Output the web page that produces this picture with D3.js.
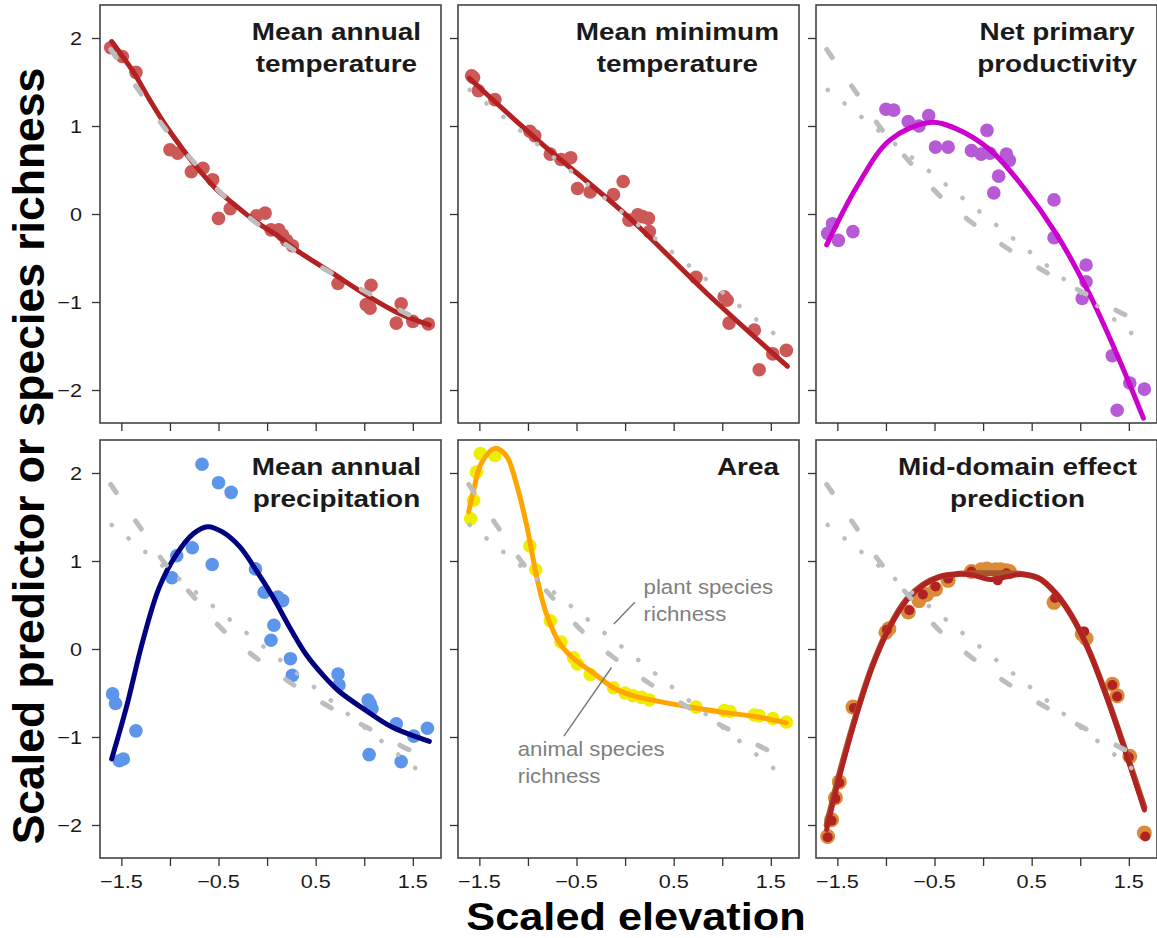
<!doctype html>
<html>
<head>
<script src="https://d3js.org/d3.v7.min.js"></script>
<style>
  body { margin: 0; background: #fff; }
  svg text { font-family: "Liberation Sans", Arial, sans-serif; fill: #1a1a1a; }
</style>
</head>
<body>
<div id="chart"></div>
<script>
// ---- data (scaled units) ----
var xTicks = [-1.5, -1, -0.5, 0, 0.5, 1, 1.5];
var xTickLabels = ["\u22121.5", "", "\u22120.5", "", "0.5", "", "1.5"];
var yTicks = [-2, -1, 0, 1, 2];
var yTickLabels = ["\u22122", "\u22121", "0", "1", "2"];

var panelTitles = [
  ["Mean annual", "temperature"],
  ["Mean minimum", "temperature"],
  ["Net primary", "productivity"],
  ["Mean annual", "precipitation"],
  ["Area"],
  ["Mid-domain effect", "prediction"]
];

// species richness fits (grey)
var plantX = [-1.61, -1.30, -1.05, -0.77, -0.44, -0.09, 0.29, 0.66, 1.06, 1.45, 1.55];
var plantY = [1.87, 1.37, 0.97, 0.61, 0.20, -0.12, -0.42, -0.67, -0.91, -1.14, -1.19];
var animalX = [-1.60, 1.60];
var animalY = [1.41, -1.42];

// mean annual temperature
var matX = [-1.61, -1.49, -1.35, -1.00, -0.92, -0.78, -0.66, -0.56, -0.50, -0.38, -0.11, -0.02, 0.04, 0.12, 0.16, 0.20, 0.26, 0.73, 1.02, 1.06, 1.07, 1.33, 1.38, 1.50, 1.66];
var matY = [1.89, 1.79, 1.61, 0.73, 0.69, 0.48, 0.52, 0.39, -0.05, 0.06, -0.02, 0.01, -0.18, -0.18, -0.24, -0.30, -0.36, -0.79, -1.03, -1.07, -0.81, -1.24, -1.02, -1.22, -1.25];
var matFitX = [-1.60, -1.38, -1.21, -1.04, -0.87, -0.70, -0.52, -0.35, -0.10, 0.10, 0.30, 0.67, 1.02, 1.36, 1.67];
var matFitY = [1.96, 1.62, 1.30, 1.00, 0.74, 0.50, 0.28, 0.12, -0.10, -0.24, -0.41, -0.67, -0.92, -1.13, -1.26];

// mean minimum temperature
var mmtX = [-1.58, -1.56, -1.51, -1.34, -0.98, -0.93, -0.77, -0.66, -0.56, -0.49, -0.36, -0.12, -0.02, 0.04, 0.13, 0.18, 0.24, 0.25, 0.73, 1.02, 1.05, 1.07, 1.33, 1.38, 1.52, 1.66];
var mmtY = [1.57, 1.55, 1.40, 1.30, 0.94, 0.89, 0.68, 0.62, 0.64, 0.29, 0.25, 0.22, 0.37, -0.07, -0.01, -0.03, -0.05, -0.20, -0.72, -0.94, -0.98, -1.24, -1.32, -1.77, -1.59, -1.55];
var mmtFitX = [-1.60, -0.88, 0.00, 0.84, 1.67];
var mmtFitY = [1.54, 0.82, 0.00, -0.90, -1.73];

// net primary productivity
var nppX = [-1.60, -1.55, -1.49, -1.34, -1.00, -0.92, -0.77, -0.66, -0.56, -0.49, -0.36, -0.12, -0.02, 0.04, 0.07, 0.16, 0.11, 0.24, 0.27, 0.73, 0.73, 1.06, 1.06, 1.02, 1.33, 1.38, 1.51, 1.66];
var nppY = [-0.22, -0.11, -0.30, -0.20, 1.19, 1.18, 1.05, 1.00, 1.12, 0.76, 0.76, 0.72, 0.68, 0.95, 0.69, 0.43, 0.24, 0.68, 0.61, 0.16, -0.27, -0.58, -0.77, -0.96, -1.61, -2.23, -1.92, -1.99];
var nppFitX = [-1.61, -1.30, -0.96, -0.55, -0.28, 0.07, 0.41, 0.75, 1.09, 1.43, 1.65];
var nppFitY = [-0.35, 0.31, 0.84, 1.04, 0.97, 0.73, 0.31, -0.22, -0.90, -1.73, -2.32];

// mean annual precipitation
var mapX = [-1.59, -1.56, -1.52, -1.48, -1.35, -0.98, -0.93, -0.77, -0.67, -0.565, -0.50, -0.37, -0.12, -0.03, 0.11, 0.16, 0.07, 0.04, 0.24, 0.26, 0.73, 0.74, 1.04, 1.06, 1.08, 1.05, 1.33, 1.38, 1.51, 1.65];
var mapY = [-0.51, -0.62, -1.27, -1.25, -0.93, 0.81, 1.06, 1.15, 2.10, 0.96, 1.89, 1.78, 0.91, 0.645, 0.59, 0.55, 0.27, 0.10, -0.11, -0.30, -0.285, -0.41, -0.58, -0.62, -0.68, -1.20, -0.85, -1.28, -0.99, -0.90];
var mapFitX = [-1.60, -1.45, -1.28, -1.11, -0.93, -0.76, -0.61, -0.46, -0.28, -0.11, 0.06, 0.23, 0.40, 0.57, 0.74, 1.02, 1.29, 1.67];
var mapFitY = [-1.25, -0.67, 0.09, 0.70, 1.08, 1.31, 1.39, 1.33, 1.16, 0.89, 0.59, 0.25, -0.06, -0.29, -0.48, -0.70, -0.89, -1.05];

// area
var areaX = [-1.59, -1.56, -1.53, -1.49, -1.34, -0.98, -0.92, -0.77, -0.66, -0.53, -0.49, -0.36, -0.12, 0.00, 0.08, 0.17, 0.25, 0.73, 1.02, 1.08, 1.33, 1.38, 1.52, 1.66];
var areaY = [1.48, 1.69, 2.01, 2.22, 2.20, 1.17, 0.90, 0.32, 0.08, -0.10, -0.17, -0.29, -0.44, -0.50, -0.53, -0.55, -0.58, -0.66, -0.70, -0.71, -0.75, -0.76, -0.79, -0.83];
var areaFitX = [-1.61, -1.56, -1.48, -1.34, -1.22, -1.12, -1.01, -0.91, -0.81, -0.67, -0.53, -0.33, -0.12, 0.08, 0.32, 0.66, 1.01, 1.35, 1.66];
var areaFitY = [1.56, 1.80, 2.11, 2.28, 2.19, 1.88, 1.39, 0.82, 0.40, 0.06, -0.11, -0.27, -0.44, -0.53, -0.59, -0.66, -0.72, -0.77, -0.84];

// mid-domain effect prediction (orange and red series)
var mdeX = [-1.60, -1.56, -1.52, -1.48, -1.34, -1.00, -0.97, -0.77, -0.66, -0.58, -0.49, -0.36, -0.12, -0.02, 0.04, 0.13, 0.18, 0.24, 0.27, 0.73, 1.02, 1.06, 1.33, 1.38, 1.51, 1.66];
var mdeY = [-2.13, -1.94, -1.69, -1.51, -0.66, 0.19, 0.23, 0.42, 0.55, 0.62, 0.68, 0.78, 0.88, 0.90, 0.91, 0.90, 0.90, 0.89, 0.88, 0.53, 0.17, 0.12, -0.40, -0.53, -1.22, -2.09];
var mdeRedX = [-1.60, -1.56, -1.52, -1.48, -1.33, -0.99, -0.76, -0.62, -0.49, -0.36, -0.12, 0.15, 0.24, 0.74, 1.04, 1.33, 1.38, 1.50, 1.67];
var mdeRedY = [-2.14, -1.95, -1.70, -1.52, -0.67, 0.22, 0.44, 0.62, 0.71, 0.80, 0.88, 0.78, 0.86, 0.58, 0.20, -0.41, -0.54, -1.23, -2.13];
var mdeFitX = [-1.61, -1.48, -1.30, -1.13, -0.96, -0.79, -0.62, -0.45, -0.28, -0.11, 0.07, 0.24, 0.41, 0.58, 0.75, 0.92, 1.09, 1.26, 1.43, 1.66];
var mdeFitY = [-2.00, -1.42, -0.72, -0.16, 0.26, 0.56, 0.73, 0.82, 0.85, 0.86, 0.86, 0.86, 0.85, 0.80, 0.63, 0.36, -0.02, -0.50, -1.04, -1.80];
var mdeRedFitY = [-2.05, -1.46, -0.74, -0.17, 0.25, 0.55, 0.72, 0.82, 0.85, 0.84, 0.79, 0.82, 0.85, 0.80, 0.63, 0.36, -0.02, -0.51, -1.05, -1.83];

function zip(a, b) { return a.map(function(v, i) { return [v, b[i]]; }); }

var panels = [
  { pts: [{ d: zip(matX, matY), fill: "#cd5858", r: 6.8 }], fits: [{ d: zip(matFitX, matFitY), color: "#b22222" }], plant: true, animal: false },
  { pts: [{ d: zip(mmtX, mmtY), fill: "#cd5858", r: 6.8 }], fits: [{ d: zip(mmtFitX, mmtFitY), color: "#b22222" }], plant: false, animal: true },
  { pts: [{ d: zip(nppX, nppY), fill: "#b65ad6", r: 6.8 }], fits: [{ d: zip(nppFitX, nppFitY), color: "#cc00cc" }], plant: true, animal: true },
  { pts: [{ d: zip(mapX, mapY), fill: "#5c95ea", r: 6.8 }], fits: [{ d: zip(mapFitX, mapFitY), color: "#000080" }], plant: true, animal: true },
  { pts: [{ d: zip(areaX, areaY), fill: "#eeee00", r: 6.8 }], fits: [{ d: zip(areaFitX, areaFitY), color: "#ffa500" }], plant: true, animal: true },
  { pts: [{ d: zip(mdeX, mdeY), fill: "#d98b3a", r: 7.5 }, { d: zip(mdeRedX, mdeRedY), fill: "#b22222", r: 5 }],
    fits: [{ d: zip(mdeFitX, mdeFitY), color: "#a9542a" }, { d: zip(mdeFitX, mdeRedFitY), color: "#b22222" }], plant: true, animal: true }
];

// ---- layout ----
var W = 1157, H = 938;
var colLeft = [100, 458, 816], rowTop = [5, 440];
var pw = 341, ph = 418;
var sx = 1.14; // horizontal text stretch seen in the picture

var svg = d3.select("#chart").append("svg").attr("width", W).attr("height", H);

var x = d3.scaleLinear().domain([-1.72, 1.79]).range([0, pw]);
var y = d3.scaleLinear().domain([-2.375, 2.375]).range([ph, 0]);

var line = d3.line().x(function(d) { return x(d[0]); }).y(function(d) { return y(d[1]); });
var smooth = d3.line().x(function(d) { return x(d[0]); }).y(function(d) { return y(d[1]); }).curve(d3.curveCatmullRom.alpha(0.5));

panels.forEach(function(p, i) {
  var col = i % 3, row = Math.floor(i / 3);
  var g = svg.append("g").attr("transform", "translate(" + colLeft[col] + "," + rowTop[row] + ")");

  g.append("clipPath").attr("id", "clip" + i)
    .append("rect").attr("width", pw).attr("height", ph);
  var plot = g.append("g").attr("clip-path", "url(#clip" + i + ")");

  // points
  p.pts.forEach(function(s) {
    plot.append("g").selectAll("circle")
      .data(s.d).enter().append("circle")
      .attr("cx", function(d) { return x(d[0]); })
      .attr("cy", function(d) { return y(d[1]); })
      .attr("r", s.r)
      .attr("fill", s.fill);
  });

  // fitted curves
  p.fits.forEach(function(f, k) {
    plot.append("path").datum(f.d)
      .attr("d", smooth)
      .attr("fill", "none")
      .attr("stroke", f.color)
      .attr("stroke-width", k === 0 && p.fits.length > 1 ? 6 : 5)
      .attr("stroke-linecap", "round");
  });

  // grey richness lines on top
  if (p.plant) {
    plot.append("path").datum(zip(plantX, plantY))
      .attr("d", smooth)
      .attr("fill", "none")
      .attr("stroke", "#bdbdbd")
      .attr("stroke-width", 5)
      .attr("stroke-linecap", "round")
      .attr("stroke-dasharray", "10 34");
  }
  if (p.animal) {
    plot.append("path").datum(zip(animalX, animalY))
      .attr("d", line)
      .attr("fill", "none")
      .attr("stroke", "#bdbdbd")
      .attr("stroke-width", 4.5)
      .attr("stroke-linecap", "round")
      .attr("stroke-dasharray", "0.1 21.5");
  }

  // frame
  g.append("rect").attr("width", pw).attr("height", ph)
    .attr("fill", "none").attr("stroke", "#444").attr("stroke-width", 1.6);

  // y axis
  var ya = g.append("g").call(d3.axisLeft(y).tickValues(yTicks).tickSize(8).tickFormat(""));
  ya.select(".domain").remove();
  ya.selectAll("line").attr("stroke", "#333").attr("stroke-width", 1.3);
  if (col === 0) {
    yTicks.forEach(function(t, k) {
      g.append("text").text(yTickLabels[k])
        .attr("font-size", 19).attr("text-anchor", "end")
        .attr("transform", "translate(-18," + (y(t) + 6.8) + ") scale(" + sx + ",1)");
    });
  }

  // x axis
  var xa = g.append("g").attr("transform", "translate(0," + ph + ")")
    .call(d3.axisBottom(x).tickValues(xTicks).tickSize(8).tickFormat(""));
  xa.select(".domain").remove();
  xa.selectAll("line").attr("stroke", "#333").attr("stroke-width", 1.3);
  if (row === 1) {
    xTicks.forEach(function(t, k) {
      if (!xTickLabels[k]) return;
      g.append("text").text(xTickLabels[k])
        .attr("font-size", 19).attr("text-anchor", "middle")
        .attr("transform", "translate(" + x(t) + "," + (ph + 30) + ") scale(" + sx + ",1)");
    });
  }

  // title block: right-aligned block, lines centred inside it
  var texts = panelTitles[i].map(function(t) {
    return g.append("text").text(t)
      .attr("font-size", 24.5).attr("font-weight", "bold")
      .attr("text-anchor", "middle").attr("fill", "#111");
  });
  var maxW = d3.max(texts, function(t) { return t.node().getComputedTextLength(); }) * sx;
  var cx = pw - 20 - maxW / 2;
  texts.forEach(function(t, k) {
    t.attr("transform", "translate(" + cx + "," + (35 + k * 32) + ") scale(" + sx + ",1)");
  });

  // annotations on the Area panel
  if (i === 4) {
    var notes = [
      { text: ["plant species", "richness"], at: [0.19, 0.63], from: [-0.116, 0.285], to: [0.10, 0.53] },
      { text: ["animal species", "richness"], at: [-1.105, -1.22], from: [-0.63, -0.99], to: [-0.14, -0.21] }
    ];
    notes.forEach(function(n) {
      g.append("line")
        .attr("x1", x(n.from[0])).attr("y1", y(n.from[1]))
        .attr("x2", x(n.to[0])).attr("y2", y(n.to[1]))
        .attr("stroke", "#777").attr("stroke-width", 1.4);
      n.text.forEach(function(t, k) {
        g.append("text").text(t)
          .attr("font-size", 19.5).style("fill", "#808080")
          .attr("transform", "translate(" + x(n.at[0]) + "," + (y(n.at[1]) + k * 27) + ") scale(" + sx + ",1)");
      });
    });
  }
});

// axis titles
svg.append("text").text("Scaled elevation")
  .attr("font-size", 38).attr("font-weight", "bold").attr("text-anchor", "middle")
  .attr("transform", "translate(636,930) scale(" + sx + ",1)").style("fill", "#000");

svg.append("text").text("Scaled predictor or species richness")
  .attr("font-size", 44.5).attr("font-weight", "bold").attr("text-anchor", "middle")
  .attr("transform", "translate(44,456) rotate(-90)").style("fill", "#000");
</script>
</body>
</html>
